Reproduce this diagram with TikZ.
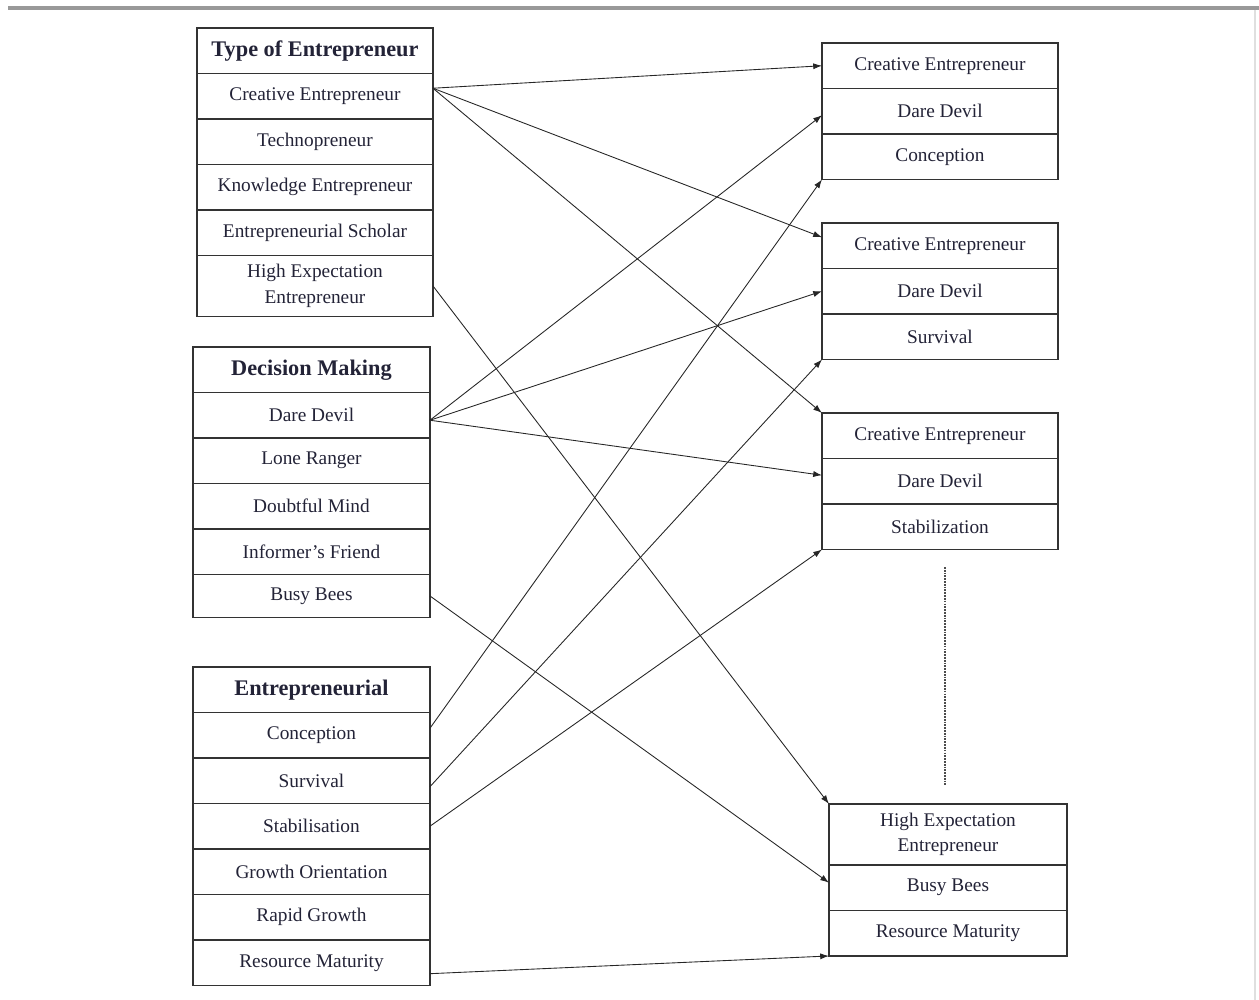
\documentclass[tikz,border=0pt]{standalone}
\usepackage{fontspec}
\setmainfont{Liberation Serif}
\usetikzlibrary{positioning,arrows.meta}
\definecolor{textc}{RGB}{35,35,55}
\tikzset{
  cell/.style={draw=black!80, line width=0.8pt, minimum width=4.72cm,
    minimum height=0.91cm, inner sep=0pt, outer sep=0pt, text=textc, align=center,
    font=\fontsize{11}{14.5}\selectfont},
  head/.style={cell, font=\bfseries\fontsize{12.7}{14}\selectfont},
  tall/.style={cell, minimum height=1.22cm},
  link/.style={-{Latex[length=5pt,width=3.5pt]}, line width=0.5pt, black!85}
}
\begin{document}
\begin{tikzpicture}[x=0.02cm, y=-0.02cm, node distance=0pt]
    \useasboundingbox (0,0) rectangle (1259,1000);
    \draw[gray!80, line width=1.8pt] (8,8) -- (1259,8);
    \draw[gray!25, line width=0.6pt] (1255,10) -- (1255,1000);
    % left column
    \node[head, anchor=north west] (te0) at (197,28) {Type of Entrepreneur};
    \node[cell, below=of te0] (te1) {Creative Entrepreneur};
    \node[cell, below=of te1] (te2) {Technopreneur};
    \node[cell, below=of te2] (te3) {Knowledge Entrepreneur};
    \node[cell, below=of te3] (te4) {Entrepreneurial Scholar};
    \node[tall, below=of te4] (te5) {High Expectation\\Entrepreneur};
    \node[head, anchor=north west, minimum width=4.74cm] (dm0) at (193,347) {Decision Making};
    \node[cell, below=of dm0, minimum width=4.74cm] (dm1) {Dare Devil};
    \node[cell, below=of dm1, minimum width=4.74cm] (dm2) {Lone Ranger};
    \node[cell, below=of dm2, minimum width=4.74cm] (dm3) {Doubtful Mind};
    \node[cell, below=of dm3, minimum width=4.74cm] (dm4) {Informer’s Friend};
    \node[cell, below=of dm4, minimum width=4.74cm, minimum height=0.86cm] (dm5) {Busy Bees};
    \node[head, anchor=north west, minimum width=4.74cm] (en0) at (193,667) {Entrepreneurial};
    \node[cell, below=of en0, minimum width=4.74cm] (en1) {Conception};
    \node[cell, below=of en1, minimum width=4.74cm] (en2) {Survival};
    \node[cell, below=of en2, minimum width=4.74cm] (en3) {Stabilisation};
    \node[cell, below=of en3, minimum width=4.74cm] (en4) {Growth Orientation};
    \node[cell, below=of en4, minimum width=4.74cm] (en5) {Rapid Growth};
    \node[cell, below=of en5, minimum width=4.74cm] (en6) {Resource Maturity};
    % right column
    \node[cell, anchor=north west] (a1) at (822,43) {Creative Entrepreneur};
    \node[cell, below=of a1] (a2) {Dare Devil};
    \node[cell, below=of a2] (a3) {Conception};
    \node[cell, anchor=north west] (b1) at (822,223) {Creative Entrepreneur};
    \node[cell, below=of b1] (b2) {Dare Devil};
    \node[cell, below=of b2] (b3) {Survival};
    \node[cell, anchor=north west] (c1) at (822,413) {Creative Entrepreneur};
    \node[cell, below=of c1] (c2) {Dare Devil};
    \node[cell, below=of c2] (c3) {Stabilization};
    \node[tall, anchor=north west, minimum width=4.76cm] (d1) at (829,804) {High Expectation\\Entrepreneur};
    \node[cell, below=of d1, minimum width=4.76cm] (d2) {Busy Bees};
    \node[cell, below=of d2, minimum width=4.76cm] (d3) {Resource Maturity};
    \draw[dash pattern=on 1pt off 0.6pt, line width=1.1pt, black!70] (945,567) -- (945,785);
    % links
    \draw[link] ([yshift=0.16cm]te1.east) -- (a1.west);
    \draw[link] ([yshift=0.16cm]te1.east) -- ([yshift=0.17cm]b1.west);
    \draw[link] ([yshift=0.16cm]te1.east) -- (c1.north west);
    \draw[link] (te5.east) -- (d1.north west);
    \draw[link] ([yshift=-0.1cm]dm1.east) -- ([yshift=-0.08cm]a2.west);
    \draw[link] ([yshift=-0.1cm]dm1.east) -- (b2.west);
    \draw[link] ([yshift=-0.1cm]dm1.east) -- ([yshift=0.12cm]c2.west);
    \draw[link] (dm5.east) -- ([yshift=0.1cm]d2.west);
    \draw[link] ([yshift=0.14cm]en1.east) -- (a3.south west);
    \draw[link] ([yshift=-0.12cm]en2.east) -- (b3.south west);
    \draw[link] (en3.east) -- (c3.south west);
    \draw[link] ([yshift=-0.22cm]en6.east) -- (d3.south west);
\end{tikzpicture}
\end{document}
